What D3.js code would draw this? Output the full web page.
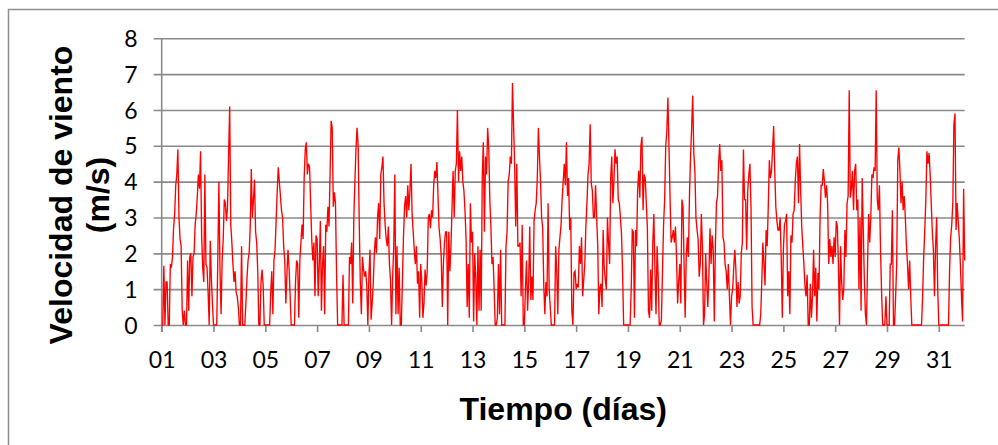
<!DOCTYPE html>
<html>
<head>
<meta charset="utf-8">
<script src="https://cdn.jsdelivr.net/npm/d3@7"></script>
<style>
  html, body { margin: 0; padding: 0; background: #fff; }
  svg { display: block; }
</style>
</head>
<body>
<svg id="chart" width="998" height="445"></svg>
<script>
// Day labels shown every second day along the time axis
const dayLabels = ["01","03","05","07","09","11","13","15","17","19","21","23","25","27","29","31"];
const yTicks = [0, 1, 2, 3, 4, 5, 6, 7, 8];

// Hourly wind speed (m/s), one row per day
const windSpeed = [
  0,0,1.65,0,1.2,1.2,0,0,1.7,1.6,1.9,2.7,3.1,3.9,4.2,4.9,3.0,2.4,2.2,0.4,0,0.4,0,0,
  1.8,0.4,1.9,2.0,0.8,1.9,2.0,2.8,3.1,3.6,4.2,3.8,4.85,2.5,1.6,1.2,4.2,1.7,1.6,0.9,0,2.35,1.3,0.6,
  0,0,0,0,1.9,4.0,1.5,0.3,1.8,2.4,3.5,3.4,2.9,3.3,4.8,6.1,2.8,2.3,1.7,1.2,1.5,0.9,0.8,0.5,
  0,0,2.2,0,0,0,0.6,1.3,1.8,2.0,2.7,4.35,3.0,3.5,4.05,2.6,2.3,1.5,0,0,1.2,1.55,1.1,0,
  0,0,0,0,0,0.9,1.5,0.3,1.8,2.1,2.9,3.7,4.4,4.0,3.6,3.2,3.0,2.2,1.8,0.6,1.4,2.1,1.6,0.8,
  0,0,0,0,1.2,1.8,1.7,0.2,1.8,2.3,2.8,2.4,4.1,4.9,5.1,4.2,4.5,4.4,3.4,2.4,1.8,2.3,0.8,2.5,
  2.4,0.8,1.7,2.9,0.4,1.7,2.2,0.3,2.8,2.6,3.3,2.75,4.2,5.7,5.5,3.3,3.7,3.4,1.45,0,0,0,0,0,
  1.4,0,0,0,0,0,1.9,1.7,2.3,0.6,3.0,4.0,4.9,5.5,5.0,2.9,1.2,0.3,1.9,1.55,1.35,1.5,1.1,0,
  1.4,2.1,0.15,0.6,1.15,2.0,2.45,2.0,3.0,3.4,2.4,4.2,4.4,4.7,3.4,2.8,2.4,2.2,2.75,1.7,1.25,0,1.35,2.2,
  4.2,0.3,2.2,0.3,1.6,0,0,1.2,2.45,3.3,3.6,3.0,3.9,3.2,3.75,4.5,3.1,2.6,2.1,1.7,2.2,1.15,1.5,0.2,
  1.7,1.2,0.2,0.6,1.55,1.1,1.5,3.0,3.1,2.7,3.2,3.0,3.9,4.3,4.1,4.55,3.6,2.7,2.4,1.9,0.5,1.7,2.3,2.6,
  2.6,0,2.6,1.5,2.2,3.3,4.3,3.0,4.3,4.5,6.0,4.0,4.85,4.3,4.7,4.0,3.75,3.2,2.4,0.5,1.7,0.2,3.4,2.3,
  2.6,0.1,2.0,1.3,0,2.2,0.4,2.1,0.4,4.1,5.1,2.6,4.7,4.2,5.5,4.95,3.5,2.75,1.7,1.9,1.0,0,0,0.2,
  1.7,0.3,2.1,0,0,0,0,2.2,2.6,4.0,4.2,4.7,4.5,6.75,5.6,4.5,2.75,4.5,2.2,2.2,2.3,0.8,2.8,0,
  0,1.0,1.8,0.4,1.2,2.75,0.7,1.35,0.7,2.9,3.2,3.4,4.1,5.5,4.7,4.0,3.0,2.7,1.1,0.3,1.2,0.8,3.4,1.0,
  0.5,0,0,0,0,2.2,1.5,0.3,2.1,2.45,2.8,3.5,4.0,4.5,3.9,5.1,3.6,4.1,2.65,3.0,0.4,0,1.45,1.5,
  1.0,1.15,1.05,2.2,1.7,2.45,0.8,1.25,1.7,2.75,3.4,4.2,4.5,5.6,3.95,3.75,3.0,3.0,3.9,3.0,2.2,0.3,1.05,1.15,
  0.5,2.65,1.6,1.25,1.0,3.0,2.3,1.7,4.1,4.7,3.4,4.0,4.9,4.5,4.7,3.5,3.4,3.0,2.55,1.5,0,0,0,0,
  0,0,0,1.0,2.65,2.6,0.2,2.65,2.2,3.8,4.3,3.55,5.0,5.25,3.2,4.2,4.1,3.4,2.7,0.4,0.2,1.55,0.4,2.3,
  3.1,1.5,0.3,2.2,1.35,0,0,0.15,1.5,2.8,3.5,5.0,5.4,6.35,5.0,3.55,2.3,2.45,2.65,2.3,2.75,1.9,0.6,1.2,
  1.7,0.6,3.5,3.3,1.7,0.2,1.9,2.45,1.9,3.65,4.7,5.5,6.4,4.8,4.3,3.0,2.65,2.4,1.35,1.7,3.1,2.2,0,0.3,
  2.0,1.15,0.5,1.4,2.7,1.7,2.5,2.1,0.1,2.2,3.4,3.6,4.5,5.05,4.3,4.6,2.45,2.3,1.7,1.5,1.0,1.7,0.8,0,
  0.8,1.0,1.6,2.1,1.55,0.5,1.2,0.6,0.8,2.0,2.3,4.9,3.5,3.5,2.1,3.75,4.2,4.5,3.3,0.5,0,0,0,0,
  0,0,0,0.3,1.2,2.3,1.7,1.1,2.65,2.2,3.3,4.6,4.1,4.3,4.9,5.55,4.3,3.3,2.9,2.65,2.65,3.0,1.9,0.2,
  2.1,2.8,2.9,3.1,0.8,1.5,0.3,2.5,2.3,3.1,3.2,4.0,4.5,4.7,3.4,5.05,3.75,2.75,2.2,1.7,1.1,0.8,1.4,0,
  0,1.15,0.2,0.8,2.1,0.8,1.6,0.1,1.45,1.0,3.0,3.9,3.9,4.35,4.0,3.55,3.9,3.4,1.7,2.4,1.9,2.2,1.7,2.45,
  1.9,2.9,2.75,1.7,0,2.2,1.2,0.7,1.0,2.65,1.9,3.4,3.6,6.55,3.55,3.8,4.3,3.2,4.3,4.5,3.2,3.5,1.0,3.0,
  0.4,4.1,2.7,1.3,0.3,0,1.7,3.1,2.3,3.0,4.2,4.1,4.4,4.3,6.55,3.5,3.2,3.9,2.1,0.9,0,0,0,0.8,
  0,0,0,1.7,1.7,3.2,0,0,0.8,1.7,4.6,4.95,4.3,3.4,4.0,3.2,3.6,3.0,2.2,1.7,1.0,1.8,0.8,0,
  0,0,0,0,0,0,0,0,0,0.8,1.9,2.65,3.5,4.85,4.5,4.8,4.2,3.4,2.6,2.1,0.8,2.2,3.0,1.0,
  0,0,0,0,0,0,0,0,0,0,1.55,2.45,2.8,3.4,5.6,5.9,2.65,3.4,2.9,2.4,1.7,0.8,0.1,3.8,
  1.8
];

const svg = d3.select("#chart");
const plot = { left: 161.7, right: 964.7, top: 38.3, bottom: 325 };
const gridColor = "#8a8a8a";

// Chart frame
svg.append("rect")
  .attr("x", 8.5).attr("y", 9.5)
  .attr("width", 1000).attr("height", 450)
  .attr("fill", "none").attr("stroke", "#8f8f8f").attr("stroke-width", 1.5);

const x = d3.scaleLinear().domain([0, 744]).range([plot.left, plot.right]);
const y = d3.scaleLinear().domain([0, 8]).range([plot.bottom, plot.top]);

// Horizontal gridlines with short ticks left of the value axis
const yAxis = svg.append("g")
  .attr("transform", `translate(${plot.left},0)`)
  .call(d3.axisLeft(y).tickValues(yTicks).tickFormat(d3.format("d"))
        .tickSize(8).tickPadding(16));
yAxis.select(".domain").remove();
yAxis.selectAll(".tick line")
  .attr("x1", -8).attr("x2", plot.right - plot.left)
  .attr("stroke", gridColor).attr("stroke-width", 1.6);
yAxis.selectAll(".tick text")
  .attr("font-family", "Lato, 'Open Sans', sans-serif")
  .attr("font-size", 23).attr("fill", "#000")
  .attr("dy", "0.35em");

// Value axis line
svg.append("line")
  .attr("x1", plot.left).attr("x2", plot.left)
  .attr("y1", plot.top).attr("y2", plot.bottom + 7)
  .attr("stroke", gridColor).attr("stroke-width", 1.6);

// Time axis: ticks every 48 hours, labelled by day
const xAxis = svg.append("g")
  .attr("transform", `translate(0,${plot.bottom})`)
  .call(d3.axisBottom(x)
        .tickValues(dayLabels.map((d, i) => i * 48))
        .tickFormat((d, i) => dayLabels[i])
        .tickSize(7).tickPadding(10));
xAxis.select(".domain").remove();
xAxis.selectAll(".tick line").attr("stroke", gridColor).attr("stroke-width", 1.6);
xAxis.selectAll(".tick text")
  .attr("font-family", "Lato, 'Open Sans', sans-serif")
  .attr("font-size", 23).attr("fill", "#000")
  .attr("y", 43).attr("dy", 0);

// Wind speed series
const line = d3.line()
  .x((d, i) => x(i))
  .y(d => y(d));
svg.append("path")
  .datum(windSpeed)
  .attr("fill", "none")
  .attr("stroke", "#ff0000")
  .attr("stroke-width", 1.35)
  .attr("stroke-linejoin", "miter")
  .attr("d", line);

// Axis titles
svg.append("text")
  .attr("x", (plot.left + plot.right) / 2).attr("y", 420)
  .attr("text-anchor", "middle")
  .attr("font-family", "'Liberation Sans', Arial, sans-serif")
  .attr("font-weight", "bold").attr("font-size", 32)
  .text("Tiempo (días)");

const yTitle = svg.append("g")
  .attr("transform", "translate(0,195) rotate(-90)")
  .attr("font-family", "'Liberation Sans', Arial, sans-serif")
  .attr("font-weight", "bold").attr("font-size", 32)
  .attr("text-anchor", "middle");
yTitle.append("text").attr("x", 0).attr("y", 72).text("Velocidad de viento");
yTitle.append("text").attr("x", 0).attr("y", 108.5).text("(m/s)");
</script>
</body>
</html>
